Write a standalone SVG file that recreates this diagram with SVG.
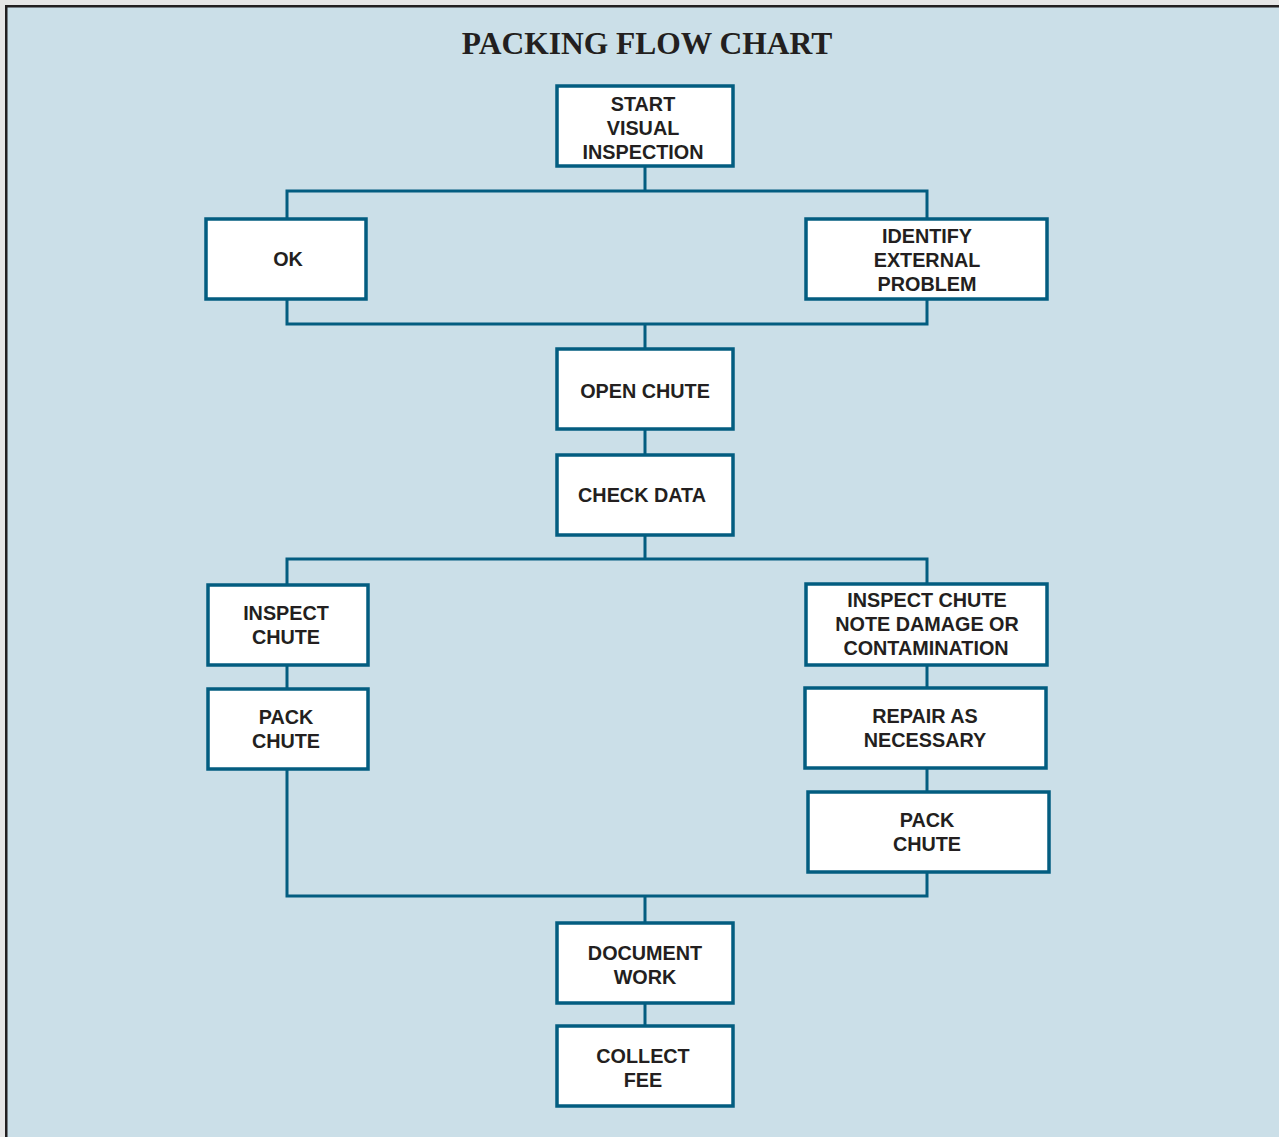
<svg xmlns="http://www.w3.org/2000/svg" width="1279" height="1137" viewBox="0 0 1279 1137">
<style>
.bg{fill:#cbdfe8}
.frame{fill:none;stroke:#231f20;stroke-width:2.5}
.box{fill:#fff;stroke:#035d80;stroke-width:3.5}
.conn{fill:none;stroke:#035d80;stroke-width:3}
.t{font-family:"Liberation Sans",Arial,sans-serif;font-weight:bold;font-size:19.8px;fill:#231f20;text-anchor:middle}
.title{font-family:"Liberation Serif","Times New Roman",serif;font-weight:bold;font-size:31.5px;fill:#231f20;text-anchor:middle}
</style>
<rect x="0" y="0" width="1279" height="1137" fill="#e6e6e6"/>
<rect class="bg" x="6" y="6" width="1273" height="1131"/>
<path class="frame" d="M6.25 1137 V6.25 H1279"/>
<text class="title" x="647" y="54">PACKING FLOW CHART</text>
<g id="connectors">
<path class="conn" d="M645 166 V191 M287 219 V191 H927 V219"/>
<path class="conn" d="M287 299 V324 H927 V299 M645 324 V349"/>
<path class="conn" d="M645 429 V455"/>
<path class="conn" d="M645 535 V559 M287 585 V559 H927 V584"/>
<path class="conn" d="M287 665 V689"/>
<path class="conn" d="M927 665 V688 M927 768 V792"/>
<path class="conn" d="M287 769 V896 H927 V872 M645 896 V923"/>
<path class="conn" d="M645 1003 V1026"/>
</g>
<g id="start"><rect class="box" x="557" y="86" width="176" height="80"/><text class="t" x="643" y="111">START</text><text class="t" x="643" y="135">VISUAL</text><text class="t" x="643" y="159">INSPECTION</text></g>
<g id="ok"><rect class="box" x="206" y="219" width="160" height="80"/><text class="t" x="288" y="266">OK</text></g>
<g id="identify"><rect class="box" x="806" y="219" width="241" height="80"/><text class="t" x="927" y="243">IDENTIFY</text><text class="t" x="927" y="267">EXTERNAL</text><text class="t" x="927" y="291">PROBLEM</text></g>
<g id="open-chute"><rect class="box" x="557" y="349" width="176" height="80"/><text class="t" x="645" y="398">OPEN CHUTE</text></g>
<g id="check-data"><rect class="box" x="557" y="455" width="176" height="80"/><text class="t" x="642" y="502">CHECK DATA</text></g>
<g id="inspect-left"><rect class="box" x="208" y="585" width="160" height="80"/><text class="t" x="286" y="620">INSPECT</text><text class="t" x="286" y="644">CHUTE</text></g>
<g id="pack-left"><rect class="box" x="208" y="689" width="160" height="80"/><text class="t" x="286" y="724">PACK</text><text class="t" x="286" y="748">CHUTE</text></g>
<g id="inspect-right"><rect class="box" x="806" y="584" width="241" height="81"/><text class="t" x="927" y="607">INSPECT CHUTE</text><text class="t" x="927" y="631">NOTE DAMAGE OR</text><text class="t" x="926" y="655">CONTAMINATION</text></g>
<g id="repair"><rect class="box" x="805" y="688" width="241" height="80"/><text class="t" x="925" y="723">REPAIR AS</text><text class="t" x="925" y="747">NECESSARY</text></g>
<g id="pack-right"><rect class="box" x="808" y="792" width="241" height="80"/><text class="t" x="927" y="827">PACK</text><text class="t" x="927" y="851">CHUTE</text></g>
<g id="document"><rect class="box" x="557" y="923" width="176" height="80"/><text class="t" x="645" y="960">DOCUMENT</text><text class="t" x="645" y="984">WORK</text></g>
<g id="collect"><rect class="box" x="557" y="1026" width="176" height="80"/><text class="t" x="643" y="1063">COLLECT</text><text class="t" x="643" y="1087">FEE</text></g>
</svg>
